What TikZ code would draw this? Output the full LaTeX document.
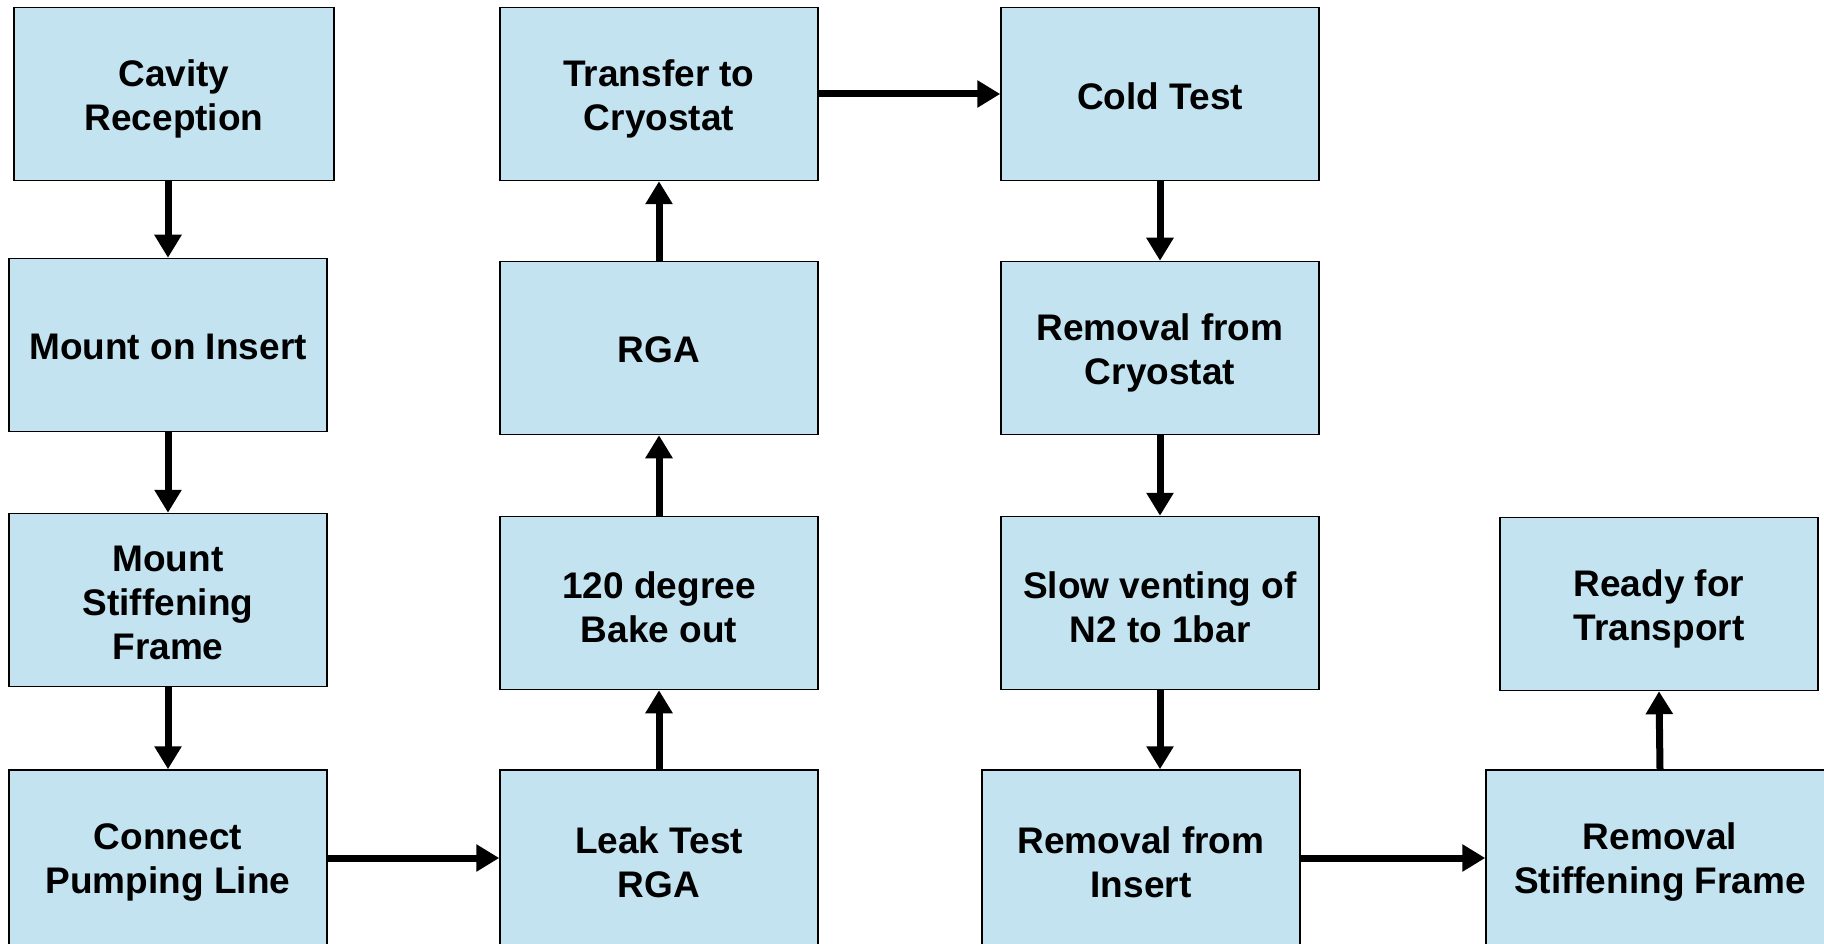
\documentclass[tikz,border=0pt]{standalone}
\usepackage{fontspec}
\setmainfont{Liberation Sans}
\usetikzlibrary{arrows.meta}
\definecolor{boxblue}{HTML}{C2E3EF}
\newcommand\dn[2][4.5pt]{\raisebox{-#1}[\height][\depth]{#2}}
\begin{document}
\begin{tikzpicture}[x=1pt,y=-1pt,
  proc/.style={draw=black, line width=1.5pt, fill=boxblue, minimum width=318pt, minimum height=173pt, align=center, inner sep=0pt, font=\fontsize{37}{44}\selectfont\bfseries},
  arr/.style={line width=7pt, -{Triangle[length=23pt,width=26pt]}}]
\useasboundingbox (0,0) rectangle (1824,944);
\fill[white] (0,0) rectangle (1824,944);
% column 1
\node[proc, minimum width=320pt] (cav) at (174,94) {\dn{Cavity}\\\dn{Reception}};
\node[proc] (ins) at (168,345) {\dn[2pt]{Mount on Insert}};
\node[proc] (stf) at (168,600) {\dn[3pt]{Mount}\\\dn[3pt]{Stiffening}\\\dn[3pt]{Frame}};
\node[proc, minimum height=176pt] (con) at (168,858) {\dn{Connect}\\\dn{Pumping Line}};
% column 2
\node[proc] (tra) at (659,94) {\dn{Transfer to}\\\dn{Cryostat}};
\node[proc] (rga) at (659,348) {\dn[2pt]{RGA}};
\node[proc] (bak) at (659,603) {\dn{120 degree}\\\dn{Bake out}};
\node[proc, minimum height=176pt] (lea) at (659,858) {\dn{Leak Test}\\\dn{RGA}};
% column 3
\node[proc] (col) at (1160,94) {\dn[2pt]{Cold Test}};
\node[proc] (rcr) at (1160,348) {\dn{Removal from}\\\dn{Cryostat}};
\node[proc] (slo) at (1160,603) {\dn{Slow venting of}\\\dn{N2 to 1bar}};
\node[proc, minimum height=176pt] (rin) at (1141,858) {\dn{Removal from}\\\dn{Insert}};
% column 4
\node[proc] (rdy) at (1659,604) {\dn{Ready for}\\\dn{Transport}};
\node[proc, minimum width=348pt, minimum height=176pt] (rst) at (1660,858) {\dn{Removal}\\\dn{Stiffening Frame}};
% connectors
\draw[arr] (ins.north |- cav.south) -- (ins.north);
\draw[arr] (ins.south) -- (stf.north);
\draw[arr] (stf.south) -- (con.north);
\draw[arr] (con.east) -- (lea.west);
\draw[arr] (lea.north) -- (bak.south);
\draw[arr] (bak.north) -- (rga.south);
\draw[arr] (rga.north) -- (tra.south);
\draw[arr] (tra.east) -- (col.west);
\draw[arr] (col.south) -- (rcr.north);
\draw[arr] (rcr.south) -- (slo.north);
\draw[arr] (slo.south) -- (slo.south |- rin.north);
\draw[arr] (rin.east) -- (rst.west);
\draw[arr] (rst.north) -- (rdy.south);
\end{tikzpicture}
\end{document}
